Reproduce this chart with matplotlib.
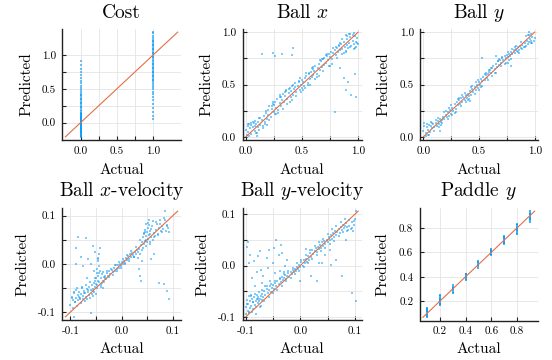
import numpy as np
import matplotlib
matplotlib.use("Agg")
import matplotlib.pyplot as plt

plt.rcParams['font.family'] = 'cmr10'
plt.rcParams['mathtext.fontset'] = 'cm'
plt.rcParams['axes.unicode_minus'] = False
plt.rcParams['axes.formatter.use_mathtext'] = True

# ---- data ----
cost_levels = [0.0, 1.0]
cost_pred = [
    [-0.21, -0.2, -0.19, -0.18, -0.17, -0.16, -0.15, -0.14, -0.13, -0.12,
     -0.11, -0.1, -0.09, -0.08, -0.07, -0.06, -0.05, -0.04, -0.03, -0.02,
     -0.01, 0.0, 0.01, 0.02, 0.03, 0.04, 0.05, 0.06, 0.07, 0.08,
     0.09, 0.1, 0.11, 0.12, 0.13, 0.14, 0.15, 0.17, 0.19, 0.21,
     0.23, 0.25, 0.27, 0.29, 0.31, 0.33, 0.35, 0.37, 0.39, 0.41,
     0.43, 0.46, 0.49, 0.52, 0.55, 0.58, 0.62, 0.66, 0.7,
     0.75, 0.8, 0.86, 0.91],
    [0.05, 0.1, 0.16, 0.22, 0.28, 0.33, 0.38, 0.42, 0.46, 0.5,
     0.53, 0.56, 0.59, 0.61, 0.63, 0.65, 0.67, 0.69, 0.71, 0.73,
     0.75, 0.77, 0.79, 0.81, 0.83, 0.85, 0.87, 0.89, 0.91, 0.93,
     0.95, 0.97, 0.99, 1.01, 1.03, 1.05, 1.07, 1.09, 1.11, 1.13,
     1.15, 1.17, 1.19, 1.21, 1.23, 1.26, 1.29, 1.32, 1.34],
]

ballx_actual = [
    0.00, 0.01, 0.02, 0.02, 0.03, 0.04, 0.05, 0.05, 0.06, 0.07,
    0.08, 0.08, 0.09, 0.10, 0.11, 0.11, 0.12, 0.13, 0.14, 0.15,
    0.16, 0.17, 0.18, 0.19, 0.20, 0.20, 0.21, 0.22, 0.23, 0.24,
    0.25, 0.26, 0.27, 0.28, 0.29, 0.30, 0.30, 0.31, 0.32, 0.33,
    0.34, 0.35, 0.36, 0.37, 0.38, 0.39, 0.40, 0.40, 0.41, 0.42,
    0.43, 0.44, 0.45, 0.46, 0.47, 0.48, 0.49, 0.50, 0.50, 0.51,
    0.52, 0.53, 0.54, 0.55, 0.56, 0.57, 0.58, 0.59, 0.60, 0.60,
    0.61, 0.62, 0.63, 0.64, 0.65, 0.66, 0.67, 0.68, 0.69, 0.70,
    0.70, 0.71, 0.72, 0.73, 0.74, 0.75, 0.76, 0.77, 0.78, 0.79,
    0.80, 0.81, 0.82, 0.83, 0.84, 0.85, 0.86, 0.87, 0.88, 0.89,
    0.90, 0.90, 0.91, 0.92, 0.93, 0.94, 0.95, 0.96, 0.97, 0.98,
    0.99, 1.00, 0.96, 0.93, 0.89, 0.86, 0.14, 0.24, 0.26, 0.32,
    0.42, 0.41, 0.84, 0.87, 0.89, 0.94, 0.98, 0.79, 0.91, 0.97,
    0.03, 0.06, 0.09, 0.12, 0.15, 0.18, 0.21, 0.24, 0.27, 0.30,
    0.33, 0.36, 0.39, 0.42, 0.45, 0.48, 0.51, 0.54, 0.57, 0.60,
    0.63, 0.66, 0.69, 0.72, 0.75, 0.78, 0.81, 0.84, 0.87, 0.90,
    0.93, 0.96, 0.99, 0.05, 0.10, 0.17, 0.23, 0.29, 0.35, 0.41,
    0.47, 0.53, 0.59, 0.65, 0.71, 0.77, 0.83, 0.89, 0.95, 0.98,
    0.02, 0.13, 0.19, 0.26, 0.31, 0.37, 0.44, 0.49, 0.56, 0.62,
    0.68, 0.74, 0.80, 0.86, 0.92, 0.97, 0.08, 0.25, 0.38, 0.55,
]
ballx_pred = [
    0.07, 0.02, 0.10, 0.05, 0.12, 0.08, 0.03, 0.11, 0.09, 0.13,
    0.06, 0.10, 0.12, 0.04, 0.09, 0.14, 0.07, 0.11, 0.16, 0.10,
    0.20, 0.14, 0.23, 0.17, 0.26, 0.21, 0.29, 0.19, 0.27, 0.31,
    0.24, 0.33, 0.28, 0.36, 0.26, 0.32, 0.38, 0.29, 0.35, 0.41,
    0.33, 0.39, 0.44, 0.36, 0.42, 0.47, 0.38, 0.44, 0.49, 0.40,
    0.46, 0.51, 0.43, 0.49, 0.53, 0.45, 0.50, 0.47, 0.54, 0.52,
    0.49, 0.56, 0.58, 0.51, 0.61, 0.55, 0.62, 0.57, 0.65, 0.59,
    0.63, 0.68, 0.60, 0.66, 0.70, 0.64, 0.72, 0.67, 0.74, 0.69,
    0.75, 0.71, 0.77, 0.73, 0.79, 0.76, 0.81, 0.74, 0.80, 0.83,
    0.78, 0.85, 0.81, 0.87, 0.83, 0.89, 0.84, 0.91, 0.86, 0.82,
    0.88, 0.93, 0.85, 0.90, 0.95, 0.87, 0.92, 0.89, 0.96, 0.91,
    0.94, 0.89, 0.84, 0.98, 0.97, 0.93, 0.79, 0.80, 0.77, 0.79,
    0.85, 0.78, 0.66, 0.56, 0.45, 0.40, 0.38, 0.24, 0.52, 0.60,
    0.01, 0.14, 0.04, 0.18, 0.08, 0.25, 0.16, 0.33, 0.22, 0.40,
    0.27, 0.45, 0.33, 0.50, 0.39, 0.56, 0.45, 0.61, 0.50, 0.67,
    0.57, 0.73, 0.63, 0.79, 0.68, 0.85, 0.75, 0.90, 0.80, 0.96,
    0.86, 0.99, 0.90, 0.13, 0.01, 0.12, 0.29, 0.23, 0.43, 0.35,
    0.52, 0.47, 0.66, 0.58, 0.78, 0.70, 0.88, 0.81, 0.97, 0.86,
    0.12, 0.18, 0.11, 0.22, 0.38, 0.31, 0.48, 0.43, 0.60, 0.55,
    0.74, 0.68, 0.86, 0.79, 0.98, 0.85, 0.15, 0.30, 0.46, 0.50,
]

bally_actual = [
    0.00, 0.01, 0.02, 0.03, 0.03, 0.04, 0.05, 0.06, 0.07, 0.08,
    0.09, 0.10, 0.11, 0.12, 0.13, 0.14, 0.15, 0.16, 0.17, 0.18,
    0.19, 0.20, 0.21, 0.22, 0.23, 0.24, 0.25, 0.26, 0.27, 0.28,
    0.29, 0.30, 0.31, 0.32, 0.33, 0.34, 0.35, 0.36, 0.37, 0.38,
    0.39, 0.40, 0.41, 0.42, 0.43, 0.44, 0.45, 0.46, 0.47, 0.48,
    0.49, 0.50, 0.51, 0.52, 0.53, 0.54, 0.55, 0.56, 0.57, 0.58,
    0.59, 0.60, 0.61, 0.62, 0.63, 0.64, 0.65, 0.66, 0.67, 0.68,
    0.69, 0.70, 0.71, 0.72, 0.73, 0.74, 0.75, 0.76, 0.77, 0.78,
    0.79, 0.80, 0.81, 0.82, 0.83, 0.84, 0.85, 0.86, 0.87, 0.88,
    0.89, 0.90, 0.91, 0.92, 0.93, 0.94, 0.95, 0.96, 0.97, 0.98,
    0.99, 1.00, 0.97, 0.95, 0.53, 0.76, 0.79, 0.65, 0.42, 0.15,
    0.01, 0.04, 0.07, 0.10, 0.13, 0.16, 0.19, 0.22, 0.25, 0.28,
    0.31, 0.34, 0.37, 0.40, 0.43, 0.46, 0.49, 0.52, 0.55, 0.58,
    0.61, 0.64, 0.67, 0.70, 0.73, 0.76, 0.79, 0.82, 0.85, 0.88,
    0.91, 0.94, 0.97, 0.02, 0.08, 0.14, 0.20, 0.26, 0.32, 0.38,
    0.44, 0.50, 0.56, 0.62, 0.68, 0.74, 0.80, 0.86, 0.92, 0.98,
    0.05, 0.11, 0.17, 0.23, 0.29, 0.35, 0.41, 0.47, 0.53, 0.59,
    0.65, 0.71, 0.77, 0.83, 0.89, 0.95,
]
bally_pred = [
    0.06, 0.10, 0.04, 0.09, 0.12, 0.07, 0.11, 0.05, 0.10, 0.08,
    0.12, 0.09, 0.13, 0.10, 0.15, 0.12, 0.17, 0.14, 0.16, 0.19,
    0.17, 0.21, 0.19, 0.24, 0.20, 0.26, 0.22, 0.28, 0.25, 0.31,
    0.27, 0.33, 0.30, 0.35, 0.31, 0.37, 0.33, 0.38, 0.35, 0.40,
    0.37, 0.41, 0.39, 0.44, 0.40, 0.46, 0.43, 0.48, 0.45, 0.50,
    0.47, 0.52, 0.50, 0.55, 0.53, 0.57, 0.54, 0.59, 0.56, 0.60,
    0.62, 0.64, 0.61, 0.66, 0.68, 0.65, 0.70, 0.67, 0.72, 0.69,
    0.73, 0.71, 0.75, 0.73, 0.77, 0.75, 0.78, 0.76, 0.79, 0.77,
    0.81, 0.79, 0.83, 0.80, 0.84, 0.82, 0.86, 0.83, 0.87, 0.85,
    0.88, 0.86, 0.90, 0.87, 0.92, 0.89, 0.91, 0.93, 0.90, 0.95,
    0.92, 0.94, 0.98, 1.00, 0.75, 0.71, 0.68, 0.77, 0.34, 0.06,
    0.13, 0.02, 0.14, 0.06, 0.18, 0.11, 0.24, 0.17, 0.30, 0.23,
    0.36, 0.29, 0.42, 0.35, 0.48, 0.41, 0.54, 0.48, 0.60, 0.54,
    0.66, 0.61, 0.72, 0.68, 0.70, 0.81, 0.74, 0.86, 0.81, 0.91,
    0.86, 0.97, 0.92, 0.01, 0.13, 0.09, 0.25, 0.21, 0.37, 0.33,
    0.49, 0.45, 0.61, 0.58, 0.74, 0.71, 0.84, 0.80, 0.96, 0.90,
    0.02, 0.16, 0.13, 0.28, 0.24, 0.40, 0.36, 0.52, 0.49, 0.64,
    0.61, 0.76, 0.73, 0.87, 0.84, 0.97,
]

xvel_actual = [
    -0.100, -0.098, -0.096, -0.095, -0.093, -0.092, -0.090, -0.089, -0.088, -0.086,
    -0.085, -0.083, -0.082, -0.080, -0.079, -0.078, -0.076, -0.075, -0.074, -0.072,
    -0.071, -0.070, -0.068, -0.067, -0.066, -0.064, -0.063, -0.062, -0.060, -0.059,
    -0.058, -0.057, -0.056, -0.055, -0.054, -0.053, -0.052, -0.051, -0.050, -0.050,
    -0.049, -0.048, -0.048, -0.047, -0.046, -0.046, -0.045, -0.044, -0.043, -0.042,
    -0.041, -0.040, -0.039, -0.038, -0.037, -0.036, -0.035, -0.034, -0.032, -0.030,
    -0.028, -0.026, -0.024, -0.022, -0.020, -0.018, -0.016, -0.014, -0.012, -0.010,
    -0.008, -0.006, -0.004, -0.002, 0.000, 0.002, 0.004, 0.006, 0.008, 0.010,
    0.012, 0.014, 0.016, 0.018, 0.020, 0.022, 0.024, 0.026, 0.028, 0.030,
    0.032, 0.033, 0.034, 0.035, 0.036, 0.037, 0.038, 0.039, 0.040, 0.041,
    0.042, 0.043, 0.044, 0.045, 0.046, 0.047, 0.048, 0.049, 0.050, 0.051,
    0.052, 0.053, 0.054, 0.055, 0.056, 0.057, 0.058, 0.060, 0.062, 0.064,
    0.066, 0.068, 0.070, 0.072, 0.074, 0.076, 0.078, 0.080, 0.083, 0.086,
    0.088, 0.090, 0.092, 0.085, 0.072, 0.082, 0.088, 0.092, 0.062, 0.058,
    -0.086, -0.070, -0.089, -0.090, -0.057, -0.052, -0.047, -0.060, -0.094, -0.065,
    -0.097, -0.094, -0.091, -0.087, -0.084, -0.081, -0.077, -0.073, -0.069, -0.065,
    -0.061, -0.057, -0.053, -0.049, -0.045, -0.041, -0.037, -0.033, -0.029, -0.025,
    -0.021, -0.017, -0.013, -0.009, -0.005, -0.001, 0.003, 0.007, 0.011, 0.015,
    0.019, 0.023, 0.027, 0.031, 0.035, 0.039, 0.043, 0.047, 0.051, 0.055,
    0.059, 0.063, 0.067, 0.071, 0.075, 0.079, 0.084, 0.089, -0.080, -0.075,
    -0.068, -0.060, -0.054, -0.046, -0.044, 0.048, 0.053, 0.056, 0.061, 0.045,
]
xvel_pred = [
    -0.085, -0.068, -0.092, -0.075, -0.060, -0.080, -0.070, -0.055, -0.088, -0.065,
    -0.075, -0.058, -0.070, -0.082, -0.062, -0.050, -0.073, -0.066, -0.056, -0.078,
    -0.060, -0.068, -0.052, -0.074, -0.058, -0.064, -0.048, -0.070, -0.055, -0.062,
    -0.045, -0.066, -0.052, -0.040, -0.058, -0.035, -0.048, -0.062, -0.030, -0.042,
    -0.020, -0.050, -0.010, -0.036, 0.005, -0.025, 0.020, -0.038, 0.032, -0.015,
    -0.045, -0.030, -0.040, -0.022, -0.035, -0.050, -0.028, -0.038, -0.025, -0.032,
    -0.020, -0.026, -0.015, -0.022, -0.012, -0.018, -0.008, -0.014, -0.003, -0.010,
    -0.002, -0.008, 0.000, -0.004, 0.003, 0.000, 0.006, 0.002, 0.012, 0.008,
    0.016, 0.010, 0.020, 0.013, 0.022, 0.018, 0.015, 0.025, 0.020, 0.028,
    0.012, -0.010, 0.030, -0.025, 0.020, -0.035, 0.038, 0.005, 0.045, 0.032,
    0.055, 0.040, 0.062, 0.048, 0.070, 0.036, 0.058, 0.066, 0.045, 0.075,
    0.052, 0.060, 0.080, 0.045, 0.068, 0.055, 0.072, 0.050, 0.064, 0.058,
    0.070, 0.082, 0.062, 0.075, 0.090, 0.068, 0.078, 0.072, 0.095, 0.068,
    0.080, 0.074, 0.065, 0.109, -0.039, -0.042, -0.056, -0.074, 0.020, 0.010,
    0.055, 0.053, 0.032, 0.000, 0.037, 0.025, 0.012, -0.102, -0.110, 0.010,
    -0.070, -0.058, -0.080, -0.050, -0.068, -0.074, -0.048, -0.060, -0.044, -0.054,
    -0.038, -0.056, -0.030, -0.044, -0.020, -0.048, -0.018, -0.030, -0.014, -0.028,
    -0.010, -0.024, -0.002, -0.016, 0.004, -0.008, 0.010, 0.000, 0.018, 0.006,
    0.026, 0.014, 0.034, 0.024, 0.050, 0.028, 0.064, 0.050, 0.085, 0.062,
    0.078, 0.055, 0.086, 0.060, 0.082, 0.066, 0.090, 0.078, 0.015, -0.005,
    -0.030, 0.000, -0.015, 0.010, -0.005, 0.082, 0.090, 0.040, 0.088, 0.065,
]

yvel_actual = [
    -0.100, -0.099, -0.098, -0.097, -0.096, -0.095, -0.094, -0.093, -0.092, -0.091,
    -0.090, -0.089, -0.088, -0.087, -0.086, -0.085, -0.084, -0.083, -0.082, -0.081,
    -0.080, -0.079, -0.078, -0.077, -0.076, -0.075, -0.074, -0.073, -0.072, -0.071,
    -0.070, -0.068, -0.066, -0.064, -0.062, -0.060, -0.058, -0.056, -0.054, -0.052,
    -0.050, -0.048, -0.046, -0.044, -0.042, -0.040, -0.038, -0.036, -0.034, -0.032,
    -0.030, -0.028, -0.026, -0.024, -0.022, -0.020, -0.018, -0.016, -0.014, -0.012,
    -0.010, -0.008, -0.006, -0.004, -0.002, 0.000, 0.002, 0.004, 0.006, 0.008,
    0.010, 0.012, 0.014, 0.016, 0.018, 0.020, 0.022, 0.024, 0.026, 0.028,
    0.030, 0.032, 0.034, 0.036, 0.038, 0.040, 0.042, 0.044, 0.046, 0.048,
    0.050, 0.052, 0.054, 0.056, 0.058, 0.060, 0.062, 0.064, 0.066, 0.068,
    0.070, 0.072, 0.074, 0.076, 0.078, 0.080, 0.082, 0.084, 0.086, 0.088,
    0.090, 0.092, 0.094, 0.096, 0.098, 0.100, 0.103, 0.057, 0.076, 0.094,
    0.103, 0.030, 0.045, 0.020, 0.065, -0.098, -0.092, -0.085, -0.080, -0.074,
    -0.068, -0.062, -0.056, -0.050, -0.044, -0.038, -0.034, -0.030, -0.060, -0.048,
    -0.095, -0.088, -0.078, -0.070, -0.064, -0.040, -0.025, 0.010, 0.035, 0.055,
    -0.098, -0.094, -0.090, -0.086, -0.082, -0.078, -0.074, -0.070, -0.066, -0.062,
    -0.058, -0.054, -0.050, -0.046, -0.042, -0.038, -0.034, -0.030, -0.026, -0.022,
    -0.018, -0.014, -0.010, -0.006, -0.002, 0.002, 0.006, 0.010, 0.014, 0.018,
    0.022, 0.026, 0.030, 0.034, 0.038, 0.042, 0.046, 0.050, 0.054, 0.058,
    0.062, 0.066, 0.070, 0.074, 0.078, 0.082, 0.086, 0.090, 0.094, 0.098,
    -0.096, -0.084, -0.072, -0.058, -0.046, -0.036, -0.028, 0.000, 0.040, 0.084,
]
yvel_pred = [
    -0.095, -0.080, -0.068, -0.088, -0.075, -0.060, -0.092, -0.070, -0.082, -0.058,
    -0.078, -0.090, -0.065, -0.072, -0.085, -0.062, -0.076, -0.055, -0.070, -0.080,
    -0.066, -0.058, -0.074, -0.062, -0.070, -0.052, -0.066, -0.078, -0.060, -0.068,
    -0.055, -0.062, -0.050, -0.058, -0.045, -0.054, -0.048, -0.040, -0.052, -0.044,
    -0.038, -0.046, -0.034, -0.040, -0.030, -0.036, -0.026, -0.033, -0.022, -0.028,
    -0.024, -0.018, -0.026, -0.020, -0.015, -0.022, -0.012, -0.017, -0.008, -0.013,
    -0.006, -0.010, -0.002, -0.006, 0.002, -0.003, 0.006, 0.000, 0.010, 0.005,
    0.012, 0.006, 0.018, 0.010, 0.024, 0.016, 0.030, 0.022, 0.028, 0.034,
    0.026, 0.036, 0.032, 0.040, 0.034, 0.045, 0.038, 0.048, 0.042, 0.050,
    0.046, 0.055, 0.050, 0.060, 0.052, 0.064, 0.056, 0.068, 0.060, 0.066,
    0.072, 0.064, 0.076, 0.070, 0.080, 0.074, 0.078, 0.082, 0.075, 0.070,
    0.078, 0.072, 0.085, 0.068, 0.080, 0.090, 0.106, 0.001, -0.021, -0.053,
    -0.070, -0.030, 0.020, -0.020, 0.010, 0.037, 0.020, 0.008, -0.012, 0.028,
    -0.020, 0.015, -0.030, 0.005, 0.050, -0.010, 0.025, -0.012, -0.005, 0.035,
    0.004, -0.025, 0.018, -0.035, -0.040, 0.020, 0.010, 0.032, 0.005, 0.030,
    -0.075, -0.090, -0.060, -0.072, -0.095, -0.066, -0.080, -0.048, -0.070, -0.040,
    -0.062, -0.036, -0.054, -0.030, -0.048, -0.024, -0.040, -0.016, -0.030, -0.010,
    -0.024, -0.004, -0.016, 0.004, -0.010, 0.010, -0.002, 0.020, 0.004, 0.030,
    0.012, 0.038, 0.020, 0.046, 0.028, 0.052, 0.035, 0.062, 0.042, 0.072,
    0.048, 0.078, 0.058, 0.085, 0.066, 0.090, 0.068, 0.088, 0.074, 0.086,
    0.045, -0.040, -0.008, 0.030, -0.015, 0.040, 0.000, -0.030, 0.005, 0.050,
]

paddle_levels = [0.1, 0.2, 0.3, 0.4, 0.5, 0.6, 0.7, 0.8, 0.9]
paddle_pred = [
    [0.07, 0.08, 0.09, 0.10, 0.11, 0.12, 0.13, 0.14, 0.15],
    [0.17, 0.18, 0.19, 0.20, 0.21, 0.22, 0.23, 0.24, 0.25],
    [0.27, 0.28, 0.29, 0.30, 0.31, 0.32, 0.33],
    [0.375, 0.385, 0.395, 0.40, 0.41, 0.42, 0.425],
    [0.475, 0.485, 0.495, 0.50, 0.51, 0.52, 0.525],
    [0.58, 0.59, 0.60, 0.61, 0.62, 0.63],
    [0.665, 0.675, 0.685, 0.695, 0.705, 0.715, 0.725, 0.73],
    [0.75, 0.76, 0.77, 0.78, 0.79, 0.80, 0.81, 0.82, 0.83],
    [0.85, 0.86, 0.87, 0.88, 0.89, 0.90, 0.91, 0.92, 0.935],
]

unit_ticks = [0.0, 0.25, 0.5, 0.75, 1.0]
unit_labels = ['0.0', '', '0.5', '', '1.0']
vel_ticks = [-0.1, -0.05, 0.0, 0.05, 0.1]
vel_labels = ['-0.1', '', '0.0', '', '0.1']
paddle_ticks = [0.2, 0.4, 0.6, 0.8]
paddle_labels = ['0.2', '0.4', '0.6', '0.8']

# ---- drawing ----
BLUE = '#009AFA'
ORANGE = '#E26F46'
W, H = 552, 360


def grouped(levels, groups):
    a = np.repeat(levels, [len(g) for g in groups])
    p = np.concatenate([np.asarray(g, float) for g in groups])
    return a, p


cost_a, cost_p = grouped(cost_levels, cost_pred)
pad_a, pad_p = grouped(paddle_levels, paddle_pred)

panels = [
    ('Cost', cost_a, cost_p, unit_ticks, unit_labels, (62, 181, 29, 140), 30, 2.8, 0.6),
    ('Ball $x$', ballx_actual, ballx_pred, unit_ticks, unit_labels, (242.5, 361.5, 29, 140), 210, 3, 0.5),
    ('Ball $y$', bally_actual, bally_pred, unit_ticks, unit_labels, (420, 538, 29, 140), 387.3, 3, 0.5),
    ('Ball $x$-velocity', xvel_actual, xvel_pred, vel_ticks, vel_labels, (62, 181, 208, 320), 26.7, 3, 0.5),
    ('Ball $y$-velocity', yvel_actual, yvel_pred, vel_ticks, vel_labels, (242.5, 361.5, 208, 320), 206.7, 3, 0.5),
    ('Paddle $y$', pad_a, pad_p, paddle_ticks, paddle_labels, (419.5, 538, 208, 320.5), 386.7, 3.5, 0.75),
]

fig = plt.figure(figsize=(W / 100, H / 100), dpi=100)

for i, (title, act, pred, ticks, labels, (l, r, t, b), ylab_x, msize, alpha) in enumerate(panels):
    act = np.asarray(act, float)
    pred = np.asarray(pred, float)
    ax = fig.add_axes([l / W, 1 - b / H, (r - l) / W, (b - t) / H])

    lo = min(act.min(), pred.min())
    hi = max(act.max(), pred.max())
    m = 0.03 * (hi - lo)
    ax.set_xlim(lo - m, hi + m)
    ax.set_ylim(lo - m, hi + m)

    ax.scatter(act, pred, s=msize, c=BLUE, alpha=alpha, linewidths=0, marker='s', zorder=2)
    ax.plot([lo, hi], [lo, hi], color=ORANGE, lw=0.8, zorder=3)

    ax.set_xticks(ticks, labels)
    ax.set_yticks(ticks, labels)
    ax.tick_params(direction='in', length=3, width=0.8, labelsize=8, pad=4.5,
                   color='#222222')
    ax.grid(True, color='#e4e4e4', linewidth=0.6, zorder=0)
    ax.set_axisbelow(True)
    for side in ['top', 'right']:
        ax.spines[side].set_visible(False)
    for side in ['left', 'bottom']:
        ax.spines[side].set_linewidth(1.0)
        ax.spines[side].set_color('#222222')

    cx = (l + r) / 2
    row_top = i < 3
    fig.text(cx / W, 1 - (18 if row_top else 196.5) / H, title,
             ha='center', va='baseline', fontsize=14)
    fig.text(cx / W, 1 - (174 if row_top else 353.3) / H, 'Actual',
             ha='center', va='baseline', fontsize=11)
    fig.text(ylab_x / W, 1 - ((t + b) / 2) / H, 'Predicted', rotation=90,
             rotation_mode='anchor', ha='center', va='baseline', fontsize=11)

fig.savefig('out.png', dpi=100)
